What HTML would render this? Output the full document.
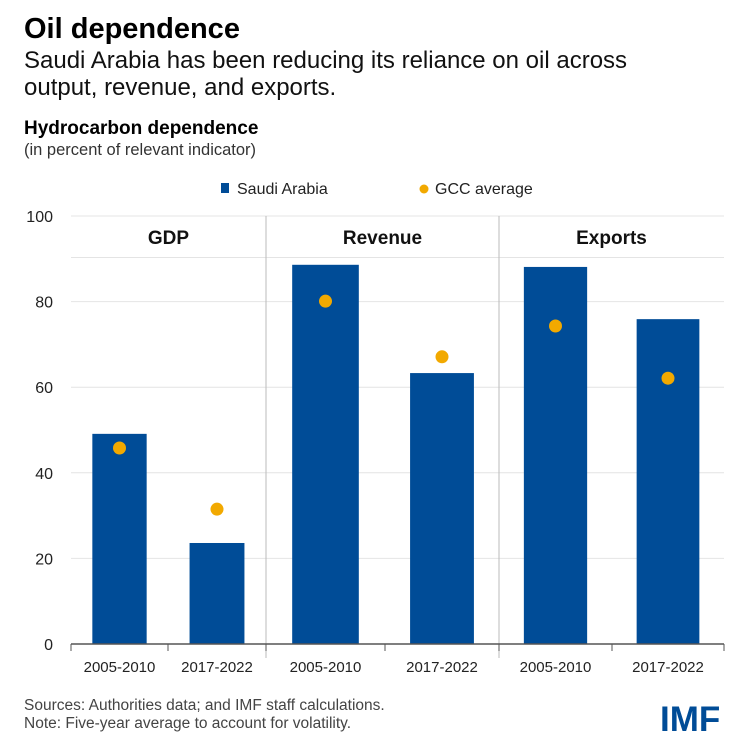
<!DOCTYPE html>
<html><head><meta charset="utf-8"><style>
body{margin:0;background:#fff;font-family:"Liberation Sans",sans-serif;}
.wrap{position:relative;width:738px;height:746px;overflow:hidden;}
</style></head><body>
<div class="wrap">
<svg id="c" width="738" height="746" xmlns="http://www.w3.org/2000/svg">
<text x="24" y="38" font-size="29" font-weight="bold" fill="#000">Oil dependence</text>
<text x="24" y="68" font-size="24" fill="#111">Saudi Arabia has been reducing its reliance on oil across</text>
<text x="24" y="95" font-size="24" fill="#111">output, revenue, and exports.</text>
<text x="24" y="134" font-size="19" font-weight="bold" fill="#000">Hydrocarbon dependence</text>
<text x="24" y="155" font-size="16.5" fill="#333">(in percent of relevant indicator)</text>
<g>
<rect x="221" y="183" width="8" height="10" fill="#004c97"/>
<text x="237" y="194" font-size="16" fill="#222">Saudi Arabia</text>
<circle cx="424" cy="189" r="4.5" fill="#f2a900"/>
<text x="435" y="194" font-size="16" fill="#222">GCC average</text>
</g>
<text x="660" y="731" font-size="35" font-weight="bold" fill="#004c97" letter-spacing="0">IMF</text>
<text x="24" y="710" font-size="15.5" fill="#444">Sources: Authorities data; and IMF staff calculations.</text>
<text x="24" y="728" font-size="15.5" fill="#444">Note: Five-year average to account for volatility.</text>
<g id="plot"></g>
</svg>
</div>
<script>
const panels = ["GDP", "Revenue", "Exports"];
const periods = ["2005-2010", "2017-2022"];
const saudiValues = [49.1, 23.6, 88.6, 63.3, 88.1, 75.9];
const gccValues = [45.8, 31.5, 80.1, 67.1, 74.3, 62.1];
const yTicks = [0, 20, 40, 60, 80, 100];

const NS = "http://www.w3.org/2000/svg";
const g = document.getElementById("plot");
const y0 = 644, y100 = 216;
const yScale = v => y0 - (v / 100) * (y0 - y100);
const panelEdges = [71, 266, 499, 724];
const tickX = [71, 168, 266, 385, 499, 612, 724];
function bandLeft(i){ return tickX[i]; }
function bandRight(i){ return tickX[i+1]; }
function mk(tag, attrs){ const e = document.createElementNS(NS, tag); for (const k in attrs) e.setAttribute(k, attrs[k]); g.appendChild(e); return e; }

yTicks.forEach(t => {
  const y = yScale(t);
  if (t > 0) {
    const l = mk("line", {x1:71, x2:724, y1:y, y2:y, stroke:"#e4e4e4", "stroke-width":1});
    
    
  }
  const tx = mk("text", {x:53, y:y+6, "font-size":16, fill:"#222", "text-anchor":"end"});
  tx.textContent = t;
  
  
});
const hl = mk("line", {x1:71, x2:724, y1:yScale(90.3), y2:yScale(90.3), stroke:"#e4e4e4", "stroke-width":1});


[1,2].forEach(i => {
  const l = mk("line", {x1:panelEdges[i], x2:panelEdges[i], y1:y100, y2:y0+14, stroke:"#bbb", "stroke-width":1});
  
  
});
panels.forEach((p, i) => {
  const t = mk("text", {x:(panelEdges[i]+panelEdges[i+1])/2, y:244, "font-size":19, "font-weight":"bold", fill:"#111", "text-anchor":"middle"});
  t.textContent = p;
  
  
});
saudiValues.forEach((v, i) => {
  const l = bandLeft(i), r = bandRight(i), w = (r - l) * 0.56, cx = (l + r) / 2;
  const b = mk("rect", {x:cx - w/2, y:yScale(v), width:w, height:y0 - yScale(v), fill:"#004c97"});
  
  
  const lab = mk("text", {x:cx, y:672, "font-size":15, fill:"#222", "text-anchor":"middle"});
  lab.textContent = periods[i % 2];
  
  
});
gccValues.forEach((v, i) => {
  const cx = (bandLeft(i) + bandRight(i)) / 2;
  const c = mk("circle", {cx:cx, cy:yScale(v), r:6.5, fill:"#f2a900"});
  
  
});
const ax = mk("line", {x1:71, x2:724, y1:y0, y2:y0, stroke:"#555", "stroke-width":1.5});


tickX.forEach(x => {
  const t = mk("line", {x1:x, x2:x, y1:y0, y2:y0+7, stroke:"#555", "stroke-width":1});
  
  
});
</script>
</body></html>
